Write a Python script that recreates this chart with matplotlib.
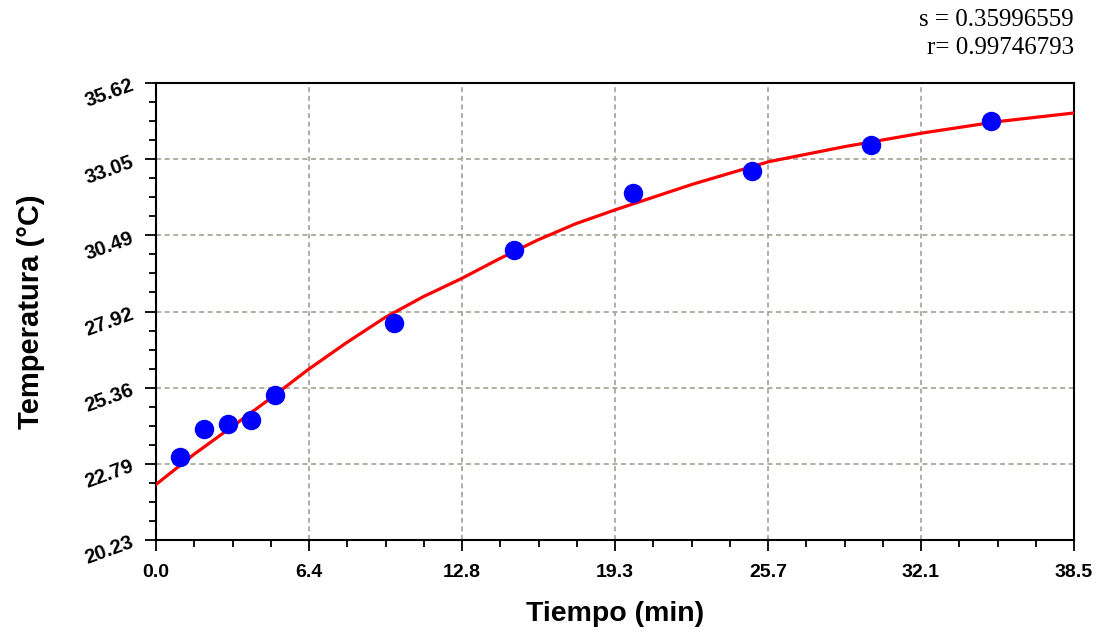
import matplotlib
matplotlib.use("Agg")
import matplotlib.pyplot as plt
import matplotlib.transforms as mtransforms
import numpy as np

# datos medidos
tiempo = [1, 2, 3, 4, 5, 10, 15, 20, 25, 30, 35]
temperatura = [23.03, 23.97, 24.14, 24.27, 25.11, 27.54, 30.00, 31.92, 32.66, 33.53, 34.34]

# curva ajustada
t_ajuste = [0.0, 1.6, 3.2, 4.8, 6.4, 8.0, 9.6, 11.2, 12.8, 14.4, 16.0, 17.6,
            19.3, 22.5, 25.7, 28.9, 32.1, 35.3, 38.5]
T_ajuste = [22.10, 23.12, 24.05, 25.00, 25.98, 26.88, 27.72, 28.42, 29.03, 29.70, 30.33, 30.88,
            31.36, 32.21, 32.97, 33.48, 33.93, 34.32, 34.61]

xtick_labels = ["0.0", "6.4", "12.8", "19.3", "25.7", "32.1", "38.5"]
ytick_labels = ["20.23", "22.79", "25.36", "27.92", "30.49", "33.05", "35.62"]
xmin, xmax = 0.0, 38.5
ymin, ymax = 20.23, 35.62

s_txt = "s = 0.35996559"
r_txt = "r= 0.99746793"

plt.rcParams['font.family'] = ['Liberation Sans', 'DejaVu Sans']
plt.rcParams['lines.scale_dashes'] = False

fig = plt.figure(figsize=(11.05, 6.4), dpi=100)
ax = fig.add_axes([156/1105, 100/640, 918/1105, 457/640])

ax.plot(t_ajuste, T_ajuste, color='#ff0000', lw=2.3, zorder=3)
ax.plot(tiempo, temperatura, 'o', color='#0000ff', markersize=13, zorder=4)

ax.set_xlim(xmin, xmax)
ax.set_ylim(ymin, ymax)
ax.set_xticks(np.linspace(xmin, xmax, 7), labels=xtick_labels)
ax.set_yticks(np.linspace(ymin, ymax, 7), labels=ytick_labels)
ax.set_xticks(np.linspace(xmin, xmax, 25), minor=True)
ax.set_yticks(np.linspace(ymin, ymax, 25), minor=True)

ax.grid(True, which='major', color='#a8a89c', lw=1.3, linestyle=(0, (3.6, 2.6)))
ax.tick_params(which='major', direction='out', length=8, width=1.3, colors='black')
ax.tick_params(which='minor', direction='out', length=5, width=1.3)
ax.tick_params(axis='x', pad=9)
ax.tick_params(axis='y', pad=11)

for lab in ax.get_xticklabels():
    lab.set_fontsize(14)
    lab.set_fontweight('bold')
subir = mtransforms.ScaledTranslation(0, 5/72, fig.dpi_scale_trans)
for lab in ax.get_yticklabels():
    lab.set_fontsize(14.5)
    lab.set_fontweight('bold')
    lab.set_rotation(20)
    lab.set_rotation_mode('anchor')
    lab.set_va('top')
    lab.set_ha('right')
    lab.set_transform(lab.get_transform() + subir)

for sp in ax.spines.values():
    sp.set_linewidth(1.5)

ax.set_xlabel('Tiempo (min)', fontsize=20.5, fontweight='bold', labelpad=15)
ax.set_ylabel('Temperatura (°C)', fontsize=21, fontweight='bold')
ax.yaxis.set_label_coords(-111/918, 0.5)

fig.text(1074/1105, 1 - 20/640, s_txt, ha='right', va='center',
         fontsize=18, family='Liberation Serif')
fig.text(1074/1105, 1 - 48/640, r_txt, ha='right', va='center',
         fontsize=18, family='Liberation Serif')

fig.savefig('out.png', dpi=100)
